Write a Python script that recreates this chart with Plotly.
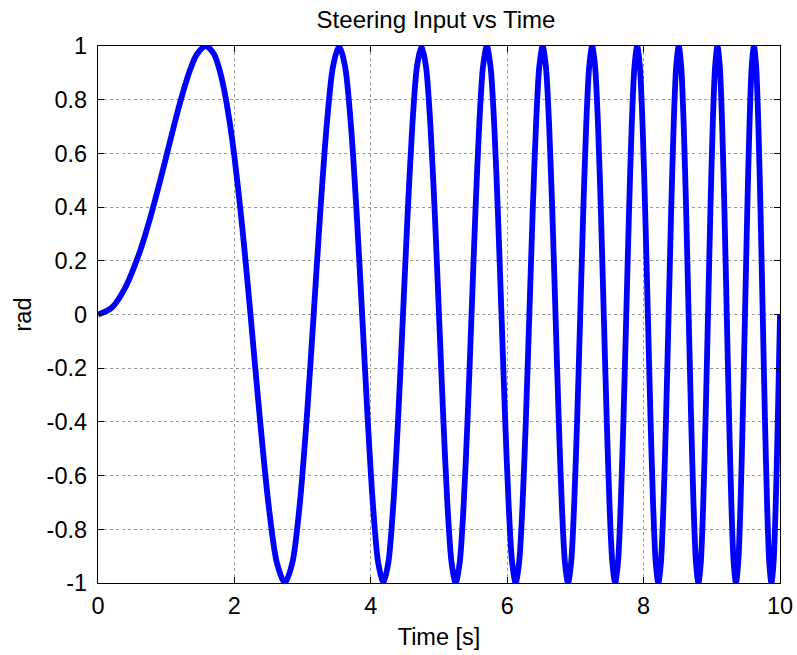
import plotly.graph_objects as go

# Time samples [s]
time_s = [
    0.0, 0.2, 0.4, 0.6, 0.7,
    0.7906, 0.9, 1.0, 1.1180, 1.2, 1.3, 1.3693, 1.45, 1.5811, 1.7, 1.7678,
    1.85, 1.9365, 2.0, 2.0917, 2.15, 2.2361,
    2.3717, 2.5000, 2.6220, 2.7386, 2.8504, 2.9580, 3.0619, 3.1623,
    3.2596, 3.3541, 3.4460, 3.5355, 3.6228, 3.7081, 3.7914, 3.8730,
    3.9528, 4.0311, 4.1079, 4.1833, 4.2573, 4.3301, 4.4017, 4.4721,
    4.5415, 4.6098, 4.6771, 4.7434, 4.8088, 4.8734, 4.9371, 5.0000,
    5.0621, 5.1235, 5.1841, 5.2440, 5.3033, 5.3619, 5.4199, 5.4772,
    5.5340, 5.5902, 5.6458, 5.7009, 5.7554, 5.8095, 5.8630, 5.9161,
    5.9687, 6.0208, 6.0725, 6.1237, 6.1745, 6.2249, 6.2750, 6.3246,
    6.3738, 6.4226, 6.4711, 6.5192, 6.5670, 6.6144, 6.6615, 6.7082,
    6.7546, 6.8007, 6.8465, 6.8920, 6.9372, 6.9821, 7.0267, 7.0711,
    7.1151, 7.1589, 7.2024, 7.2457, 7.2887, 7.3314, 7.3739, 7.4162,
    7.4582, 7.5000, 7.5416, 7.5829, 7.6240, 7.6649, 7.7055, 7.7460,
    7.7862, 7.8262, 7.8660, 7.9057, 7.9451, 7.9844, 8.0234, 8.0623,
    8.1009, 8.1394, 8.1777, 8.2158, 8.2538, 8.2916, 8.3292, 8.3666,
    8.4039, 8.4410, 8.4779, 8.5147, 8.5513, 8.5878, 8.6241, 8.6603,
    8.6963, 8.7321, 8.7678, 8.8034, 8.8388, 8.8741, 8.9093, 8.9443,
    8.9791, 9.0139, 9.0485, 9.0830, 9.1173, 9.1515, 9.1856, 9.2195,
    9.2534, 9.2871, 9.3207, 9.3541, 9.3875, 9.4207, 9.4538, 9.4868,
    9.5197, 9.5525, 9.5851, 9.6177, 9.6501, 9.6825, 9.7147, 9.7468,
    9.7788, 9.8107, 9.8425, 9.8742, 9.9058, 9.9373, 9.9687, 10.0,
]

# Steering input [rad]
steer_rad = [
    0.0, 0.0251, 0.1003, 0.2243, 0.3030,
    0.3827, 0.4873, 0.5878, 0.7071, 0.7863, 0.8733, 0.9239, 0.9690, 1.0, 0.9701, 0.9239,
    0.8368, 0.7071, 0.5878, 0.3827, 0.2350, 0.0,
    -0.3827, -0.7071, -0.9239, -1.0, -0.9239, -0.7071, -0.3827, 0.0,
    0.3827, 0.7071, 0.9239, 1.0, 0.9239, 0.7071, 0.3827, 0.0,
    -0.3827, -0.7071, -0.9239, -1.0, -0.9239, -0.7071, -0.3827, 0.0,
    0.3827, 0.7071, 0.9239, 1.0, 0.9239, 0.7071, 0.3827, 0.0,
    -0.3827, -0.7071, -0.9239, -1.0, -0.9239, -0.7071, -0.3827, 0.0,
    0.3827, 0.7071, 0.9239, 1.0, 0.9239, 0.7071, 0.3827, 0.0,
    -0.3827, -0.7071, -0.9239, -1.0, -0.9239, -0.7071, -0.3827, 0.0,
    0.3827, 0.7071, 0.9239, 1.0, 0.9239, 0.7071, 0.3827, 0.0,
    -0.3827, -0.7071, -0.9239, -1.0, -0.9239, -0.7071, -0.3827, 0.0,
    0.3827, 0.7071, 0.9239, 1.0, 0.9239, 0.7071, 0.3827, 0.0,
    -0.3827, -0.7071, -0.9239, -1.0, -0.9239, -0.7071, -0.3827, 0.0,
    0.3827, 0.7071, 0.9239, 1.0, 0.9239, 0.7071, 0.3827, 0.0,
    -0.3827, -0.7071, -0.9239, -1.0, -0.9239, -0.7071, -0.3827, 0.0,
    0.3827, 0.7071, 0.9239, 1.0, 0.9239, 0.7071, 0.3827, 0.0,
    -0.3827, -0.7071, -0.9239, -1.0, -0.9239, -0.7071, -0.3827, 0.0,
    0.3827, 0.7071, 0.9239, 1.0, 0.9239, 0.7071, 0.3827, 0.0,
    -0.3827, -0.7071, -0.9239, -1.0, -0.9239, -0.7071, -0.3827, 0.0,
    0.3827, 0.7071, 0.9239, 1.0, 0.9239, 0.7071, 0.3827, 0.0,
    -0.3827, -0.7071, -0.9239, -1.0, -0.9239, -0.7071, -0.3827, 0.0,
]

x_ticks = [0, 2, 4, 6, 8, 10]
x_tick_labels = ["0", "2", "4", "6", "8", "10"]
y_ticks = [-1, -0.8, -0.6, -0.4, -0.2, 0, 0.2, 0.4, 0.6, 0.8, 1]
y_tick_labels = ["-1", "-0.8", "-0.6", "-0.4", "-0.2", "0", "0.2", "0.4", "0.6", "0.8", "1"]

FONT = "Liberation Sans, Arial, sans-serif"
FS = 23.5
W, H = 797, 655

fig = go.Figure()
fig.add_trace(go.Scatter(
    x=time_s, y=steer_rad, mode="lines",
    line=dict(color="#0000FF", width=5.8, shape="spline", smoothing=0.8),
    showlegend=False, hoverinfo="skip",
))

axis_common = dict(
    showline=True, linecolor="black", linewidth=1.2, mirror="allticks",
    ticks="inside", ticklen=6, tickcolor="black", tickwidth=1,
    showgrid=True, gridcolor="#555555", gridwidth=0.6, griddash="dot",
    zeroline=False, tickfont=dict(family=FONT, size=FS, color="black"),
    automargin=False,
)

fig.update_xaxes(
    range=[0, 10], tickmode="array", tickvals=x_ticks, ticktext=x_tick_labels,
    title=dict(text="Time [s]", font=dict(family=FONT, size=FS, color="black"), standoff=10),
    ticklabelstandoff=2,
    **axis_common,
)
fig.update_yaxes(
    range=[-1, 1], tickmode="array", tickvals=y_ticks, ticktext=y_tick_labels,
    title=dict(text="rad", font=dict(family=FONT, size=FS, color="black"), standoff=8),
    ticklabelstandoff=5,
    **axis_common,
)

fig.update_layout(
    width=W, height=H,
    margin=dict(l=98, r=17, t=46, b=72),
    paper_bgcolor="white", plot_bgcolor="white",
    hovermode=False,
    title=dict(text="Steering Input vs Time", x=436 / W, xref="container", xanchor="center",
               y=1 - 19.5 / H, yref="container", yanchor="middle",
               font=dict(family=FONT, size=24, color="black")),
)

# Remove the browser's default 8px body margin so the figure fills the window.
fig.write_html(
    "out.html",
    config={"displayModeBar": False, "staticPlot": True},
    post_script="document.body.style.margin='0';document.body.style.overflow='hidden';",
)
